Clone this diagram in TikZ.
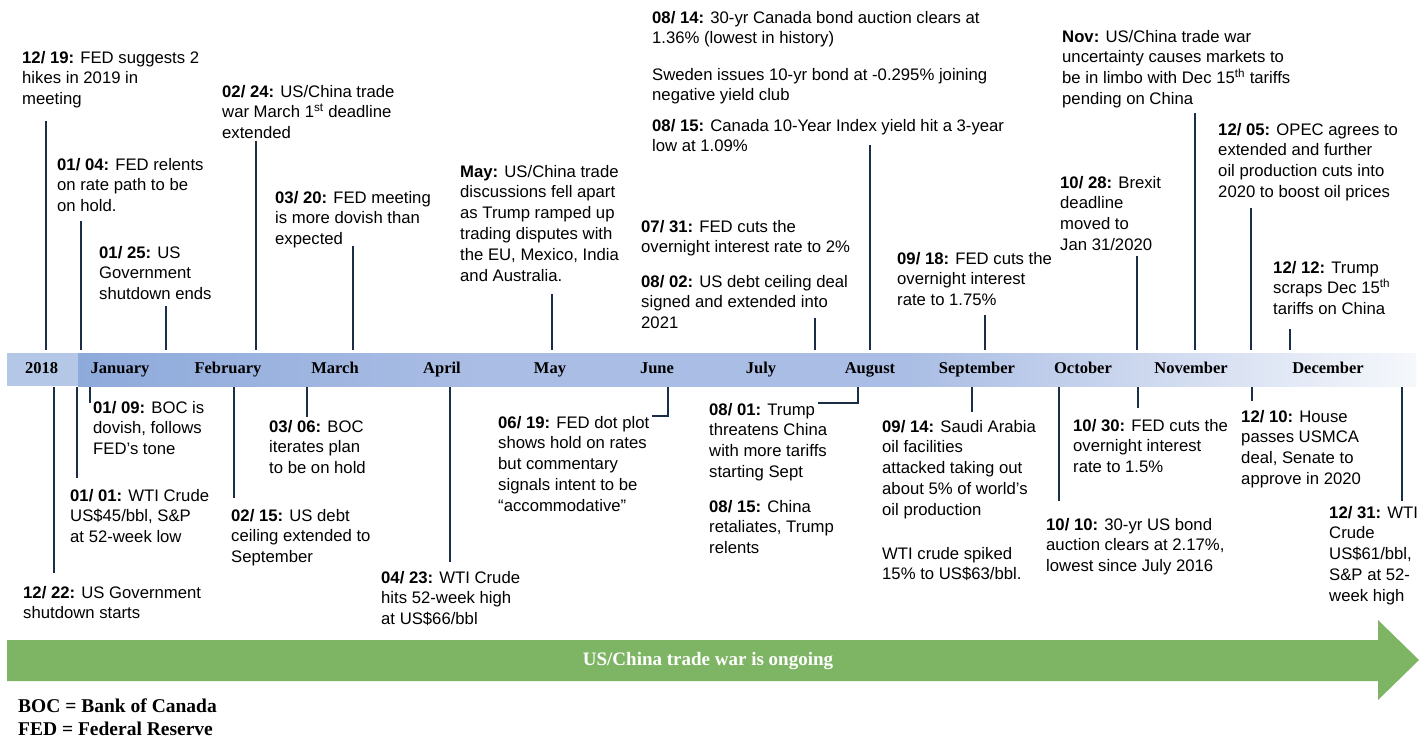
\documentclass[tikz,border=0pt]{standalone}
\usepackage{fontspec}
\setmainfont{Liberation Sans}
\newfontfamily\serifbold{Liberation Serif}
\definecolor{navy}{HTML}{1A2E48}
\definecolor{arrowgreen}{HTML}{7EB564}
\definecolor{barlight}{HTML}{B4C7E7}
\definecolor{bardark}{HTML}{8EAADB}
\definecolor{barmid}{HTML}{AABDE4}
\definecolor{barend}{HTML}{F5F7FB}
\pgfdeclarehorizontalshading{barshade}{100bp}{color(0bp)=(bardark); color(25bp)=(bardark); color(40bp)=(barmid); color(56bp)=(barmid); color(75bp)=(barend); color(100bp)=(barend)}
\newcommand\evlines[1]{\begin{tabular}[t]{@{}l@{}}#1\end{tabular}}
\tikzset{
  evt/.style={anchor=base west, inner sep=0pt, font=\fontsize{16.7}{20.8}\selectfont},
  conn/.style={draw=navy, line width=1.8pt},
  month/.style={anchor=base, inner sep=0pt, font=\serifbold\bfseries\fontsize{16.5}{18}\selectfont},
  legend/.style={anchor=base west, inner sep=0pt, font=\serifbold\bfseries\fontsize{19.5}{22}\selectfont}
}
\begin{document}
\begin{tikzpicture}[x=1pt,y=-1pt]
\useasboundingbox (0,0) rectangle (1424,737);
\fill[white] (0,0) rectangle (1424,737);
% timeline bar
\fill[barlight] (7,353) rectangle (78.5,386);
\shade[shading=barshade] (78,353) rectangle (1416,386);
\coordinate (topend) at (0,350);
\coordinate (botend) at (0,387);
% months
\node[month] (m0) at (41.5,373) {2018};
\node[month] (m1) at (120,373) {January};
\node[month] (m2) at (228,373) {February};
\node[month] (m3) at (335,373) {March};
\node[month] (m4) at (442,373) {April};
\node[month] (m5) at (550,373) {May};
\node[month] (m6) at (657,373) {June};
\node[month] (m7) at (761,373) {July};
\node[month] (m8) at (870,373) {August};
\node[month] (m9) at (977,373) {September};
\node[month] (m10) at (1083,373) {October};
\node[month] (m11) at (1191,373) {November};
\node[month] (m12) at (1328,373) {December};
% top events
\node[evt] (t1219) at (22,63) {\evlines{\textbf{12/ 19:} FED suggests 2\\hikes in 2019 in\\meeting}};
\node[evt] (t0104) at (57,170) {\evlines{\textbf{01/ 04:} FED relents\\on rate path to be\\on hold.}};
\node[evt] (t0125) at (99,258) {\evlines{\textbf{01/ 25:} US\\Government\\shutdown ends}};
\node[evt] (t0224) at (222,97) {\evlines{\textbf{02/ 24:} US/China trade\\war March 1\textsuperscript{st} deadline\\extended}};
\node[evt] (t0320) at (275,203) {\evlines{\textbf{03/ 20:} FED meeting\\is more dovish than\\expected}};
\node[evt] (tmay) at (460,177) {\evlines{\textbf{May:} US/China trade\\discussions fell apart\\as Trump ramped up\\trading disputes with\\the EU, Mexico, India\\and Australia.}};
\node[evt] (t0814) at (652,23) {\evlines{\textbf{08/ 14:} 30-yr Canada bond auction clears at\\1.36\% (lowest in history)}};
\node[evt] (tswe) at (652,80) {\evlines{Sweden issues 10-yr bond at -0.295\% joining\\negative yield club}};
\node[evt] (t0815) at (652,131) {\evlines{\textbf{08/ 15:} Canada 10-Year Index yield hit a 3-year\\low at 1.09\%}};
\node[evt] (t0731) at (641,232) {\evlines{\textbf{07/ 31:} FED cuts the\\overnight interest rate to 2\%}};
\node[evt] (t0802) at (641,287) {\evlines{\textbf{08/ 02:} US debt ceiling deal\\signed and extended into\\2021}};
\node[evt] (t0918) at (897,264) {\evlines{\textbf{09/ 18:} FED cuts the\\overnight interest\\rate to 1.75\%}};
\node[evt] (t1028) at (1060,188) {\evlines{\textbf{10/ 28:} Brexit\\deadline\\moved to\\Jan 31/2020}};
\node[evt] (tnov) at (1062,42) {\evlines{\textbf{Nov:} US/China trade war\\uncertainty causes markets to\\be in limbo with Dec 15\textsuperscript{th} tariffs\\pending on China}};
\node[evt] (t1205) at (1218,135) {\evlines{\textbf{12/ 05:} OPEC agrees to\\extended and further\\oil production cuts into\\2020 to boost oil prices}};
\node[evt] (t1212) at (1273,273) {\evlines{\textbf{12/ 12:} Trump\\scraps Dec 15\textsuperscript{th}\\tariffs on China}};
% bottom events
\node[evt] (b0109) at (93,413) {\evlines{\textbf{01/ 09:} BOC is\\dovish, follows\\FED’s tone}};
\node[evt] (b0101) at (70,501) {\evlines{\textbf{01/ 01:} WTI Crude\\US\$45/bbl, S\&P\\at 52-week low}};
\node[evt] (b1222) at (23,598) {\evlines{\textbf{12/ 22:} US Government\\shutdown starts}};
\node[evt] (b0215) at (231,521) {\evlines{\textbf{02/ 15:} US debt\\ceiling extended to\\September}};
\node[evt] (b0306) at (269,432) {\evlines{\textbf{03/ 06:} BOC\\iterates plan\\to be on hold}};
\node[evt] (b0423) at (381,583) {\evlines{\textbf{04/ 23:} WTI Crude\\hits 52-week high\\at US\$66/bbl}};
\node[evt] (b0619) at (498,428) {\evlines{\textbf{06/ 19:} FED dot plot\\shows hold on rates\\but commentary\\signals intent to be\\“accommodative”}};
\node[evt] (b0801) at (709,415) {\evlines{\textbf{08/ 01:} Trump\\threatens China\\with more tariffs\\starting Sept}};
\node[evt] (b0815) at (709,512) {\evlines{\textbf{08/ 15:} China\\retaliates, Trump\\relents}};
\node[evt] (b0914) at (882,432) {\evlines{\textbf{09/ 14:} Saudi Arabia\\oil facilities\\attacked taking out\\about 5\% of world’s\\oil production}};
\node[evt] (bwti) at (882,559) {\evlines{WTI crude spiked\\15\% to US\$63/bbl.}};
\node[evt] (b1030) at (1073,431) {\evlines{\textbf{10/ 30:} FED cuts the\\overnight interest\\rate to 1.5\%}};
\node[evt] (b1010) at (1046,530) {\evlines{\textbf{10/ 10:} 30-yr US bond\\auction clears at 2.17\%,\\lowest since July 2016}};
\node[evt] (b1210) at (1241,422) {\evlines{\textbf{12/ 10:} House\\passes USMCA\\deal, Senate to\\approve in 2020}};
\node[evt] (b1231) at (1329,518) {\evlines{\textbf{12/ 31:} WTI\\Crude\\US\$61/bbl,\\S\&P at 52-\\week high}};
% top connectors
\coordinate (c1) at (46,121);   \draw[conn] (c1) -- (c1 |- topend);
\coordinate (c2) at (81,221);   \draw[conn] (c2) -- (c2 |- topend);
\coordinate (c3) at (166,306);  \draw[conn] (c3) -- (c3 |- topend);
\coordinate (c4) at (256,141);  \draw[conn] (c4) -- (c4 |- topend);
\coordinate (c5) at (353,246);  \draw[conn] (c5) -- (c5 |- topend);
\coordinate (c6) at (552,294);  \draw[conn] (c6) -- (c6 |- topend);
\coordinate (c7) at (815,318);  \draw[conn] (c7) -- (c7 |- topend);
\coordinate (c8) at (870,145);  \draw[conn] (c8) -- (c8 |- topend);
\coordinate (c9) at (985,315);  \draw[conn] (c9) -- (c9 |- topend);
\coordinate (c10) at (1137,256); \draw[conn] (c10) -- (c10 |- topend);
\coordinate (c11) at (1195,113); \draw[conn] (c11) -- (c11 |- topend);
\coordinate (c12) at (1251,208); \draw[conn] (c12) -- (c12 |- topend);
\coordinate (c13) at (1290,329); \draw[conn] (c13) -- (c13 |- topend);
% bottom connectors
\coordinate (d1) at (54,573);   \draw[conn] (d1 |- botend) -- (d1);
\coordinate (d2) at (77,478);   \draw[conn] (d2 |- botend) -- (d2);
\coordinate (d3) at (90,403);   \draw[conn] (d3 |- botend) -- (d3);
\coordinate (d4) at (234,498);  \draw[conn] (d4 |- botend) -- (d4);
\coordinate (d5) at (307,417);  \draw[conn] (d5 |- botend) -- (d5);
\coordinate (d6) at (450,562);  \draw[conn] (d6 |- botend) -- (d6);
\coordinate (d7) at (668,416);  \coordinate (d7e) at (652,416);
\draw[conn] (d7 |- botend) -- (d7) -- (d7e);
\coordinate (d8) at (858,403);  \coordinate (d8e) at (818,403);
\draw[conn] (d8 |- botend) -- (d8) -- (d8e);
\coordinate (d9) at (972,412);  \draw[conn] (d9 |- botend) -- (d9);
\coordinate (d10) at (1059,501); \draw[conn] (d10 |- botend) -- (d10);
\coordinate (d11) at (1138,408); \draw[conn] (d11 |- botend) -- (d11);
\coordinate (d12) at (1252,401); \draw[conn] (d12 |- botend) -- (d12);
\coordinate (d13) at (1402,501); \draw[conn] (d13 |- botend) -- (d13);
% green arrow
\fill[arrowgreen] (7,640) -- (1378,640) -- (1378,620) -- (1419,660) -- (1378,700) -- (1378,681) -- (7,681) -- cycle;
\node[inner sep=0pt, text=white, font=\serifbold\bfseries\fontsize{19}{22}\selectfont] (trade) at (708,661) {US/China trade war is ongoing};
% legend
\node[legend] (l1) at (18,712) {BOC = Bank of Canada};
\node[legend] (l2) at (18,735) {FED = Federal Reserve};
\end{tikzpicture}
\end{document}
